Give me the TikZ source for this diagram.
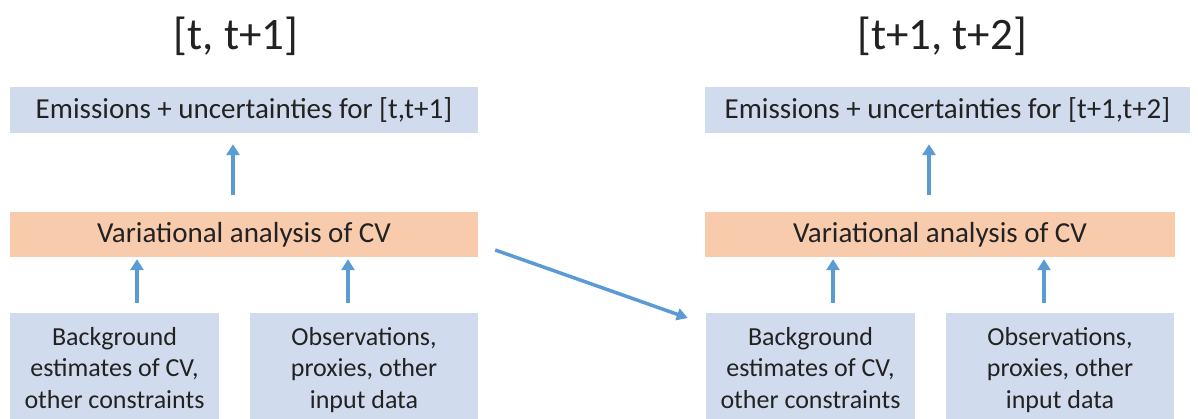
\documentclass[tikz,border=0pt]{standalone}
\usepackage{fontspec}
\setmainfont{Carlito}
\usetikzlibrary{arrows.meta}
\definecolor{boxblue}{HTML}{D0DCEE}
\definecolor{boxorange}{HTML}{F8CBAD}
\definecolor{arrowblue}{HTML}{5B9BD5}
\definecolor{inktext}{HTML}{222222}
\tikzset{
  period/.style={inner sep=0pt, anchor=base, text=inktext, font=\fontsize{45}{54}\selectfont},
  outbox/.style={fill=boxblue, inner sep=0pt, minimum height=46pt, text=inktext, font=\fontsize{29}{35}\selectfont},
  anbox/.style={fill=boxorange, inner sep=0pt, minimum height=45pt, text=inktext, font=\fontsize{29}{35}\selectfont},
  inbox/.style={fill=boxblue, inner sep=0pt, minimum height=130pt},
  intext/.style={inner sep=0pt, anchor=north, align=center, text=inktext, font=\fontsize{26}{31.5}\selectfont},
  uparrow/.style={draw=arrowblue, line width=4.5pt, -{Triangle[width=13pt,length=11pt]}},
  linkarrow/.style={draw=arrowblue, line width=3.5pt, -{Triangle[width=12pt,length=11pt]}}
}
\begin{document}
\begin{tikzpicture}[x=1pt,y=1pt]
\useasboundingbox (0,0) rectangle (1198,418);

% first period
\node[period] (title1) at (236,368) {[t, t+1]};
\node[outbox, minimum width=468pt] (em1) at (244,308) {Emissions + uncertainties for [t,t+1]};
\node[anbox, minimum width=468pt] (var1) at (244,183.5) {Variational analysis of CV};
\node[inbox, minimum width=209pt, anchor=north] (bg1) at (114.5,105) {};
\node[inbox, minimum width=228pt, anchor=north] (obs1) at (364,105) {};
\node[intext] (bg1t) at (114.5,91) {Background\\estimates of CV,\\other constraints};
\node[intext] (obs1t) at (364,91) {Observations,\\proxies, other\\input data};

% second period
\node[period] (title2) at (942,368) {[t+1, t+2]};
\node[outbox, minimum width=485pt] (em2) at (947.5,308) {Emissions + uncertainties for [t+1,t+2]};
\node[anbox, minimum width=470pt] (var2) at (940,183.5) {Variational analysis of CV};
\node[inbox, minimum width=209pt, anchor=north] (bg2) at (810.5,105) {};
\node[inbox, minimum width=228pt, anchor=north] (obs2) at (1060,105) {};
\node[intext] (bg2t) at (810.5,91) {Background\\estimates of CV,\\other constraints};
\node[intext] (obs2t) at (1060,91) {Observations,\\proxies, other\\input data};

% flow within the first period
\draw[uparrow] ([xshift=-11pt,yshift=17pt]var1.north) -- ([xshift=-11pt,yshift=-11pt]em1.south);
\draw[uparrow] ([xshift=22.5pt,yshift=10pt]bg1.north) -- ([xshift=-107pt,yshift=-2pt]var1.south);
\draw[uparrow] ([xshift=-16pt,yshift=10pt]obs1.north) -- ([xshift=104pt,yshift=-2pt]var1.south);

% flow within the second period
\draw[uparrow] ([xshift=-11pt,yshift=17pt]var2.north) -- ([xshift=-18.5pt,yshift=-11pt]em2.south);
\draw[uparrow] ([xshift=22.5pt,yshift=10pt]bg2.north) -- ([xshift=-107pt,yshift=-2pt]var2.south);
\draw[uparrow] ([xshift=-16pt,yshift=10pt]obs2.north) -- ([xshift=104pt,yshift=-2pt]var2.south);

% analysis feeds the next background
\draw[linkarrow] ([xshift=17pt,yshift=-15.5pt]var1.east) -- ([xshift=-18pt,yshift=-5pt]bg2.north west);
\end{tikzpicture}
\end{document}
